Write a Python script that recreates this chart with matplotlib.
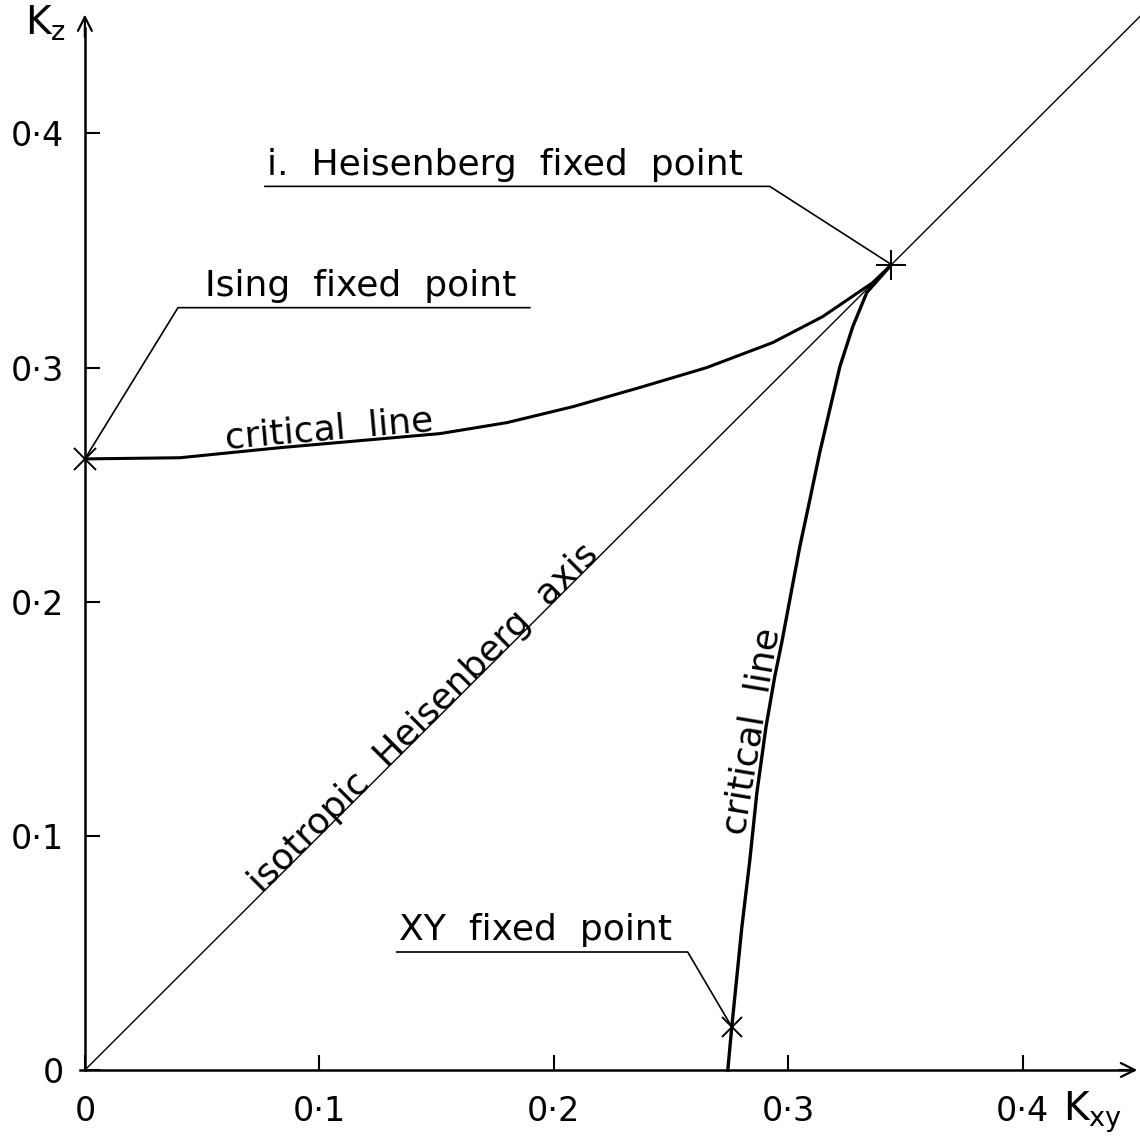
import matplotlib
matplotlib.use("Agg")
import matplotlib.pyplot as plt

# critical line from the Ising fixed point to the isotropic Heisenberg point
ising_crit_kxy = [0.0, 0.0405, 0.0832, 0.1514, 0.1800, 0.2081, 0.2367, 0.2652,
                  0.2934, 0.3147, 0.3360, 0.344]
ising_crit_kz = [0.261, 0.2615, 0.2658, 0.2718, 0.2765, 0.2833, 0.2915, 0.3000,
                 0.3107, 0.3218, 0.3363, 0.344]

# critical line from the K_z = 0 axis through the XY point to the Heisenberg point
xy_crit_kxy = [0.2742, 0.2759, 0.2802, 0.2836, 0.2866, 0.2905, 0.2942, 0.2972, 0.3012,
               0.3049, 0.3092, 0.3134, 0.3177, 0.3220, 0.3275, 0.3335, 0.344]
xy_crit_kz = [0.0, 0.0184, 0.0611, 0.0897, 0.1184, 0.1466, 0.1679, 0.1825, 0.2038,
              0.2235, 0.2436, 0.2637, 0.2821, 0.3004, 0.3175, 0.3321, 0.344]

# isotropic axis K_z = K_xy
iso_kxy = [0.0, 0.46]
iso_kz = [0.0, 0.46]

# fixed points
ising_fp = (0.0, 0.261)
heis_fp = (0.344, 0.344)
xy_fp = (0.2759, 0.0184)

ticks = [0.0, 0.1, 0.2, 0.3, 0.4]
xtick_labels = ["0", "0·1", "0·2", "0·3", "0·4"]
ytick_labels = ["0", "0·1", "0·2", "0·3", "0·4"]

# label text, underline start x, underline y, knee x, target point
labels = [
    ("i.  Heisenberg  fixed  point", 0.0768, 0.3774, 0.2921, heis_fp),
    ("Ising  fixed  point", 0.1898, 0.3256, 0.0397, ising_fp),
    ("XY  fixed  point", 0.133, 0.0504, 0.2571, xy_fp),
]

plt.rcParams["font.family"] = ["DejaVu Sans"]

fig = plt.figure(figsize=(11.4, 11.44), dpi=100)
ax = fig.add_axes([0, 0, 1, 1])
ax.set_xlim(-0.0362, 0.450)
ax.set_ylim(-0.0316, 0.457)

# axes through the origin
for s in ["top", "right"]:
    ax.spines[s].set_visible(False)
ax.spines["left"].set_position(("data", 0))
ax.spines["bottom"].set_position(("data", 0))
ax.spines["left"].set_bounds(0, 0.445)
ax.spines["bottom"].set_bounds(-0.002, 0.447)
ax.spines["left"].set_linewidth(1.8)
ax.spines["bottom"].set_linewidth(1.8)
ax.annotate("", xy=(0.450, 0), xytext=(0.44, 0),
            arrowprops=dict(arrowstyle="->", lw=1.6, mutation_scale=25))
ax.annotate("", xy=(0, 0.452), xytext=(0, 0.44),
            arrowprops=dict(arrowstyle="->", lw=1.6, mutation_scale=25))

ax.set_xticks(ticks, xtick_labels)
ax.set_yticks(ticks, ytick_labels)
ax.tick_params(direction="in", length=11, width=1.5, labelsize=24, pad=18)
ax.tick_params(axis="y", pad=15)

ax.text(-0.017, 0.447, r"K$_\mathregular{z}$", fontsize=28, ha="center", va="center")
ax.text(0.430, -0.018, r"K$_\mathregular{xy}$", fontsize=28, ha="center", va="center")

# lines
ax.plot(iso_kxy, iso_kz, color="black", lw=1.0)
ax.plot(ising_crit_kxy, ising_crit_kz, color="black", lw=2.2, solid_joinstyle="round")
ax.plot(xy_crit_kxy, xy_crit_kz, color="black", lw=2.4, solid_joinstyle="round")

ax.plot(*ising_fp, marker="x", ms=16, mew=1.4, color="black")
ax.plot(*xy_fp, marker="x", ms=14, mew=1.4, color="black")
ax.plot(*heis_fp, marker="+", ms=22, mew=1.4, color="black")

# labels with underline and leader line to the fixed point
for text, x0, y0, x1, target in labels:
    ax.plot([x0, x1, target[0]], [y0, y0, target[1]], color="black", lw=1.2)
    left = min(x0, x1) + (0.0115 if x1 < x0 else 0.001)
    ax.text(left, y0 + 0.002, text, fontsize=26, ha="left", va="bottom")

# text along the curves
ax.text(0.1475, 0.1475, "isotropic  Heisenberg  axis", fontsize=26, rotation=45,
        rotation_mode="anchor", ha="center", va="baseline")
ax.text(0.1045, 0.2695, "critical  line", fontsize=26, rotation=5,
        rotation_mode="anchor", ha="center", va="baseline")
ax.text(0.2885, 0.1440, "critical  line", fontsize=26, rotation=80.5,
        rotation_mode="anchor", ha="center", va="baseline")

fig.savefig("out.png", dpi=100, facecolor="white")
